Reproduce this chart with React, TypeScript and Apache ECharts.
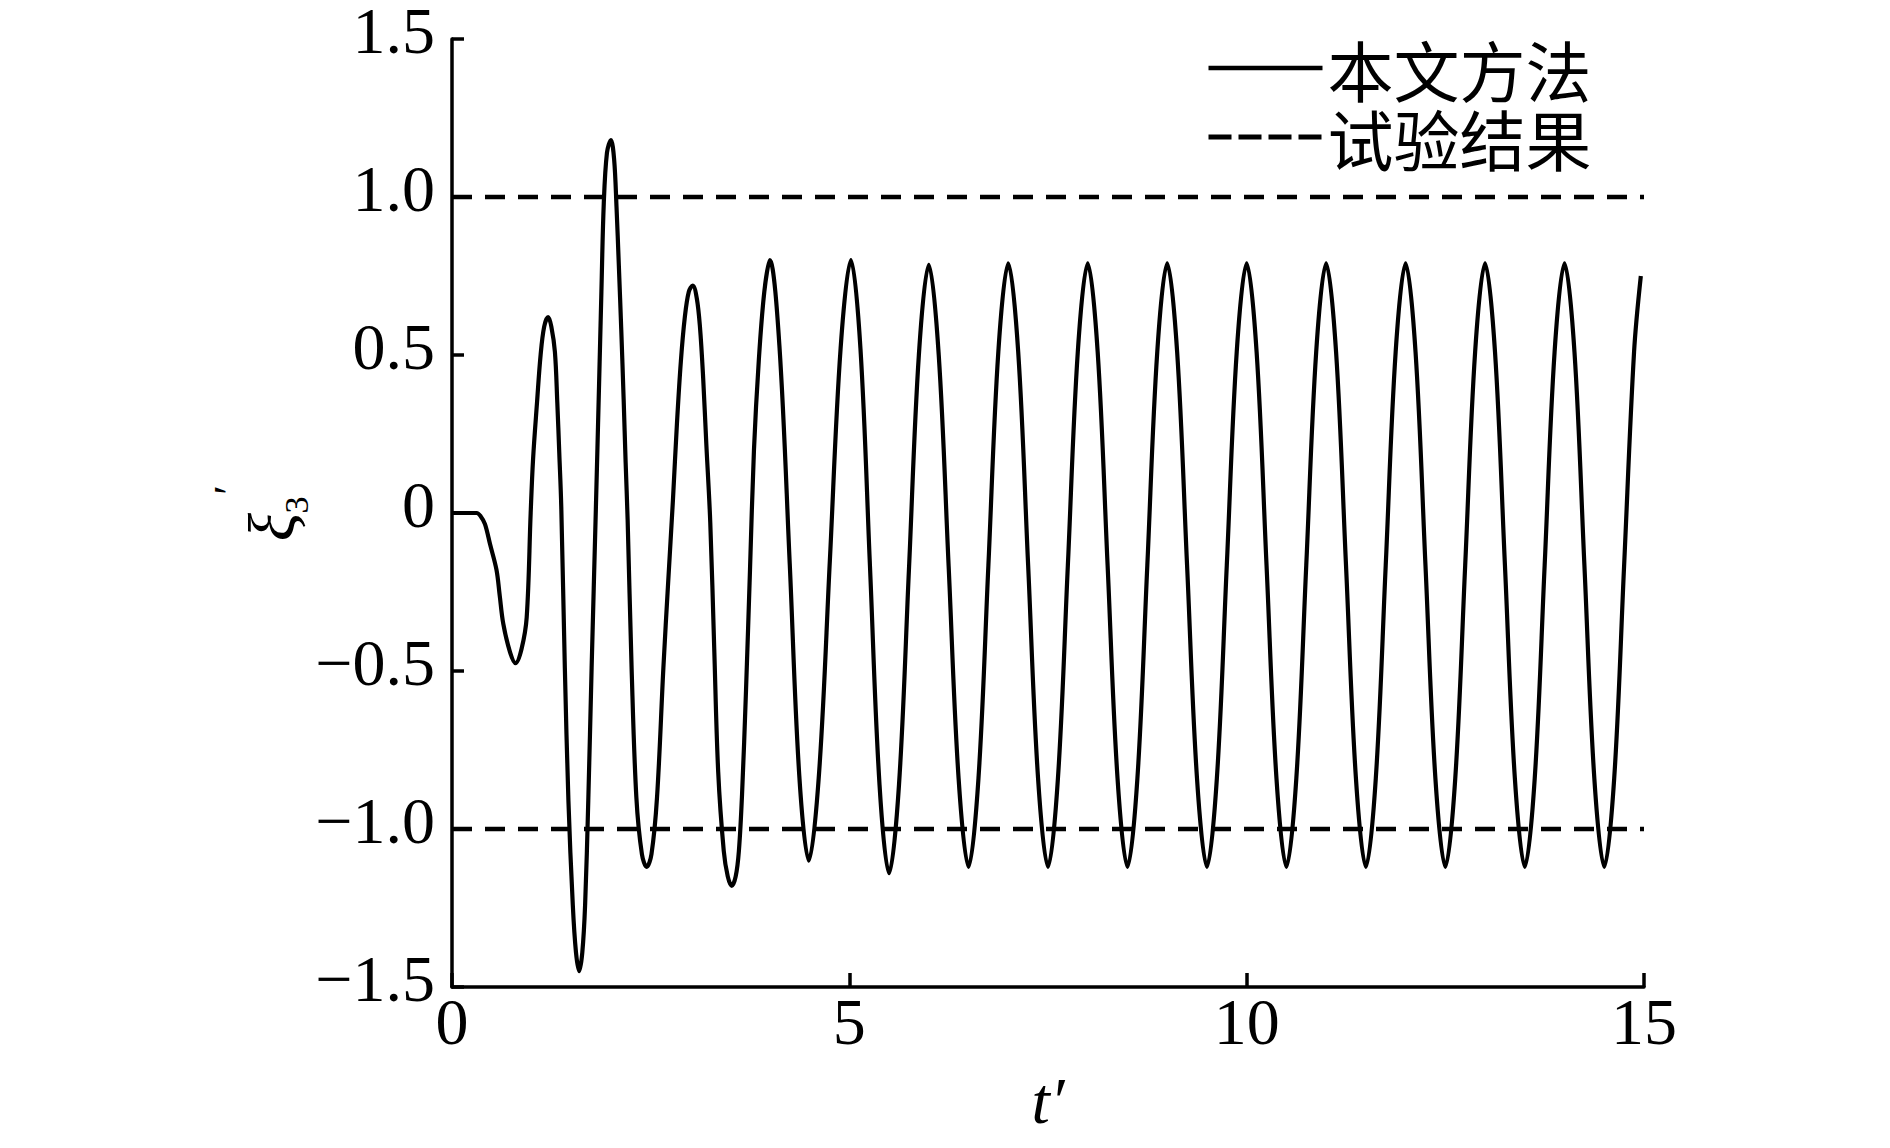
import React, { useEffect, useRef } from "react";
import * as echarts from "echarts";

// 本文方法: (t', xi3') points
const xiCurve: [number, number][] = [
  [0.0, 0], [0.2, 0], [0.31, 0], [0.36, -0.01], [0.415, -0.035], [0.48, -0.1],
  [0.56, -0.18], [0.6, -0.26], [0.645, -0.35], [0.73, -0.44], [0.8, -0.475],
  [0.875, -0.43], [0.94, -0.33], [0.99, 0.0], [1.02, 0.17],
  [1.07, 0.35], [1.115, 0.5], [1.16, 0.59], [1.21, 0.62], [1.25, 0.59],
  [1.295, 0.51], [1.325, 0.35], [1.35, 0.19], [1.375, 0.02], [1.42, -0.49],
  [1.465, -0.91], [1.52, -1.24], [1.56, -1.39], [1.6, -1.45], [1.64, -1.39],
  [1.675, -1.24], [1.715, -0.91], [1.757, -0.49], [1.81, 0.01], [1.85, 0.4],
  [1.88, 0.7], [1.91, 0.98], [1.95, 1.14], [2.0, 1.18], [2.04, 1.12],
  [2.07, 0.97], [2.1, 0.78], [2.13, 0.58], [2.16, 0.36], [2.185, 0.16],
  [2.21, -0.02], [2.26, -0.49], [2.32, -0.9], [2.39, -1.08], [2.45, -1.12],
  [2.51, -1.08], [2.58, -0.9], [2.66, -0.49], [2.72, -0.22], [2.78, 0.04],
  [2.83, 0.28], [2.88, 0.48], [2.93, 0.62], [2.98, 0.7], [3.03, 0.72],
  [3.08, 0.68], [3.12, 0.59], [3.16, 0.43], [3.2, 0.22], [3.25, -0.03],
  [3.3, -0.43], [3.35, -0.82], [3.42, -1.07], [3.47, -1.15], [3.52, -1.18],
  [3.57, -1.15], [3.61, -1.07], [3.65, -0.89], [3.7, -0.56], [3.75, -0.18],
  [3.8, 0.2], [3.86, 0.48], [3.93, 0.7], [4.0, 0.8],
  [4.12, 0.53], [4.25, -0.16], [4.37, -0.83], [4.49, -1.1],
  [4.62, -0.82], [4.755, -0.15], [4.89, 0.52], [5.02, 0.8],
  [5.14, 0.52], [5.26, -0.17], [5.38, -0.86], [5.5, -1.14],
  [5.625, -0.86], [5.75, -0.18], [5.875, 0.5], [6.0, 0.785],
  [6.125, 0.5], [6.25, -0.17], [6.375, -0.84], [6.5, -1.12],
  [6.625, -0.84], [6.75, -0.165], [6.875, 0.51], [7.0, 0.79],
  [7.125, 0.51], [7.25, -0.165], [7.375, -0.84], [7.5, -1.12],
  [7.625, -0.84], [7.75, -0.165], [7.875, 0.51], [8.0, 0.79],
  [8.125, 0.51], [8.25, -0.165], [8.375, -0.84], [8.5, -1.12],
  [8.625, -0.84], [8.75, -0.165], [8.875, 0.51], [9.0, 0.79],
  [9.125, 0.51], [9.25, -0.165], [9.375, -0.84], [9.5, -1.12],
  [9.625, -0.84], [9.75, -0.165], [9.875, 0.51], [10.0, 0.79],
  [10.125, 0.51], [10.25, -0.165], [10.375, -0.84], [10.5, -1.12],
  [10.625, -0.84], [10.75, -0.165], [10.875, 0.51], [11.0, 0.79],
  [11.125, 0.51], [11.25, -0.165], [11.375, -0.84], [11.5, -1.12],
  [11.625, -0.84], [11.75, -0.165], [11.875, 0.51], [12.0, 0.79],
  [12.125, 0.51], [12.25, -0.165], [12.375, -0.84], [12.5, -1.12],
  [12.625, -0.84], [12.75, -0.165], [12.875, 0.51], [13.0, 0.79],
  [13.125, 0.51], [13.25, -0.165], [13.375, -0.84], [13.5, -1.12],
  [13.625, -0.84], [13.75, -0.165], [13.875, 0.51], [14.0, 0.79],
  [14.125, 0.51], [14.25, -0.165], [14.375, -0.84], [14.5, -1.12],
  [14.625, -0.84], [14.75, -0.165], [14.875, 0.51], [14.96, 0.75],
];

// 试验结果: horizontal levels
const testLevels = [1, -1];
const xRange = [0, 15];
const yTickLabels = ["−1.5", "−1.0", "−0.5", "0", "0.5", "1.0", "1.5"];
const seriesNames = ["本文方法", "试验结果"];
const xAxisName = "t′";
const yNameParts = ["ξ", "3", "′"];

const SERIF = '"Liberation Serif", "Times New Roman", serif';
const CJK = '"Noto Sans CJK SC", sans-serif';

export default function App() {
  const ref = useRef<HTMLDivElement>(null);
  useEffect(() => {
    const chart = echarts.init(ref.current!, null, { renderer: "svg" });
    const dashedSeries = testLevels.map((lvl) => ({
      name: seriesNames[1],
      type: "line",
      data: [
        [xRange[0], lvl],
        [xRange[1], lvl],
      ],
      symbol: "none",
      showSymbol: false,
      itemStyle: { color: "#000" },
      lineStyle: { color: "#000", width: 4.5, type: [20, 13] },
      z: 2,
    }));
    const option: any = {
      animation: false,
      backgroundColor: "#fff",
      color: ["#000"],
      grid: { left: 452, right: 246, top: 39, bottom: 161, containLabel: false, outerBoundsMode: "none" },
      legend: {
        orient: "vertical",
        left: 1201,
        top: 30,
        itemWidth: 114,
        itemHeight: 20,
        itemGap: 3,
        selectedMode: false,
        textStyle: { fontFamily: CJK, fontSize: 66, color: "#000", lineHeight: 66 },
        data: [
          {
            name: seriesNames[0],
            itemStyle: { opacity: 0 },
            lineStyle: { width: 4.5, type: "solid", color: "#000" },
          },
          {
            name: seriesNames[1],
            itemStyle: { opacity: 0 },
            lineStyle: { width: 5, type: [23, 7], color: "#000" },
          },
        ],
      },
      xAxis: {
        type: "value",
        min: xRange[0],
        max: xRange[1],
        interval: 5,
        name: xAxisName,
        nameLocation: "middle",
        nameGap: 80,
        nameTextStyle: { fontFamily: SERIF, fontStyle: "italic", fontSize: 66, color: "#000" },
        axisLine: { onZero: false, lineStyle: { color: "#000", width: 3.5 } },
        axisTick: { inside: true, length: 14, lineStyle: { color: "#000", width: 3.5 } },
        axisLabel: { color: "#000", fontFamily: SERIF, fontSize: 66, margin: 1 },
        splitLine: { show: false },
      },
      yAxis: {
        type: "value",
        min: -1.5,
        max: 1.5,
        interval: 0.5,
        axisLine: { show: true, onZero: false, lineStyle: { color: "#000", width: 3.5 } },
        axisTick: { show: true, inside: true, length: 12, lineStyle: { color: "#000", width: 3.5 } },
        axisLabel: {
          color: "#000",
          fontFamily: SERIF,
          fontSize: 66,
          margin: 17,
          verticalAlign: "bottom",
          lineHeight: 17,
          formatter: (v: number) => yTickLabels[Math.round((v + 1.5) / 0.5)],
        },
        splitLine: { show: false },
      },
      graphic: [
        {
          type: "group",
          x: 264,
          y: 513,
          rotation: Math.PI / 2,
          children: [
            {
              type: "text",
              x: -14,
              y: 7,
              style: { text: yNameParts[0], font: `italic 66px ${SERIF}`, fill: "#000", align: "center", verticalAlign: "middle" },
            },
            {
              type: "text",
              x: 8,
              y: 32,
              style: { text: yNameParts[1], font: `34px ${SERIF}`, fill: "#000", align: "center", verticalAlign: "middle" },
            },
            {
              type: "text",
              x: 23,
              y: -35,
              style: { text: yNameParts[2], font: `44px ${SERIF}`, fill: "#000", align: "center", verticalAlign: "middle" },
            },
          ],
        },
      ],
      series: [
        {
          name: seriesNames[0],
          type: "line",
          data: xiCurve,
          symbol: "none",
          showSymbol: false,
          smooth: 0.35,
          itemStyle: { color: "#000" },
          lineStyle: { color: "#000", width: 4.2 },
          z: 3,
        },
        ...dashedSeries,
      ],
    };
    chart.setOption(option);
    return () => chart.dispose();
  }, []);
  return (
    <div
      ref={ref}
      style={{ position: "absolute", left: 0, top: 0, width: 1890, height: 1148, background: "#fff" }}
    />
  );
}
